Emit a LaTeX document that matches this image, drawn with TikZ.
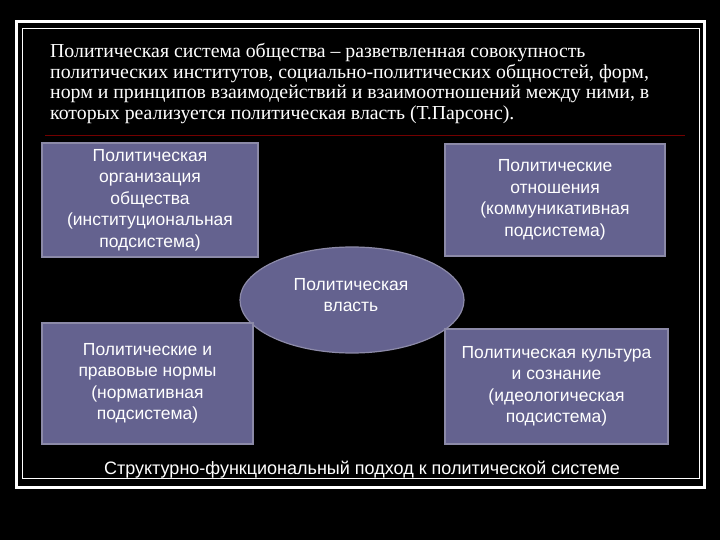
\documentclass[tikz,border=0pt]{standalone}
\usepackage{fontspec}
\usetikzlibrary{shapes.geometric}
\setmainfont{Liberation Serif}
\newfontfamily\boxfont{Liberation Sans}
\definecolor{boxfill}{HTML}{64628F}
\definecolor{boxedge}{HTML}{8C8AA8}
\begin{document}
\begin{tikzpicture}[x=1pt,y=-1pt,
  boxst/.style={draw=boxedge,line width=1.2pt,fill=boxfill,text=white,font=\boxfont\fontsize{17.5}{21.5}\selectfont,align=center,inner sep=0pt},
]
\fill[black] (0,0) rectangle (720,540);
\useasboundingbox (0,0) rectangle (720,540);
\draw[white,line width=3pt] (16,22) rectangle (704,487);
\draw[white,line width=0.8pt] (22,28) rectangle (699,478);
\node[anchor=north west,text=white,align=left,inner sep=0pt,font=\fontsize{19.8}{20.8}\selectfont] (title) at (50,43)
{Политическая система общества – разветвленная совокупность\\
политических институтов, социально-политических общностей, форм,\\
норм и принципов взаимодействий и взаимоотношений между ними, в\\
которых реализуется политическая власть (Т.Парсонс).};
\draw[red!45!black,line width=0.8pt] (45,135) -- (685,135);
\node[boxst,ellipse,minimum width=224pt,minimum height=106pt] (pw) at (352,300) {};
\node[text=white,font=\boxfont\fontsize{17.5}{21.5}\selectfont,align=center] (pwt) at (351,295) {Политическая\\власть};
\node[boxst,minimum width=216pt,minimum height=114pt] (tl) at (150,200)
{Политическая\\организация\\общества\\(институциональная\\подсистема)};
\node[boxst,minimum width=220pt,minimum height=112pt] (tr) at (555,200)
{Политические\\отношения\\(коммуникативная\\подсистема)};
\node[boxst,minimum width=211pt,minimum height=121pt] (bl) at (147.5,383.5)
{Политические и\\правовые нормы\\(нормативная\\подсистема)};
\node[boxst,minimum width=223pt,minimum height=115pt] (br) at (556.5,386.5)
{Политическая культура\\и сознание\\(идеологическая\\подсистема)};
\node[text=white,font=\boxfont\fontsize{18}{20}\selectfont,inner sep=0pt] (cap) at (362,470) {Структурно-функциональный подход к политической системе};
\end{tikzpicture}
\end{document}
